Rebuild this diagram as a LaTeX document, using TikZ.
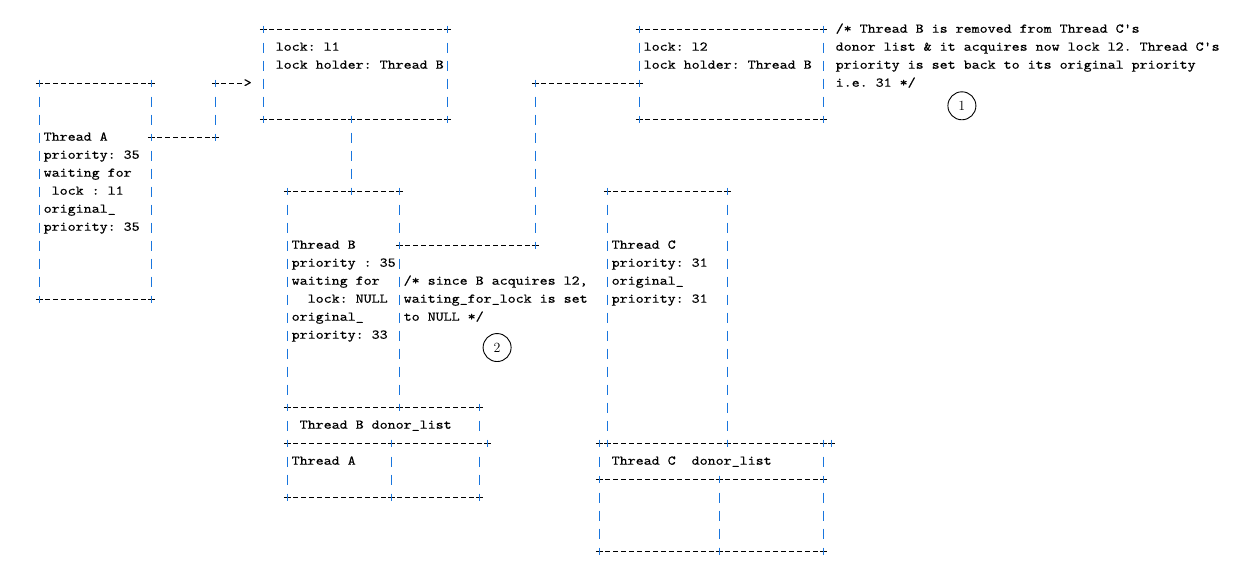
\documentclass[tikz,border=0pt]{standalone}
\usepackage{fontspec}
\setmonofont{lmmono10-regular.otf}[FakeStretch=1.143, FakeBold=0.35]
\usepackage{tikz}

\definecolor{barblue}{RGB}{25,118,222}

\tikzset{
  hbar/.style={black, line width=1pt},
  vbar/.style={barblue, line width=1.5pt},
  minus/.style={hbar, dash pattern=on 4.8pt off 3.2pt},
  pipe/.style={vbar, dash pattern=on 10.8pt off 7.2pt},
  plus/.pic={\draw[hbar] (-0.44,0) -- (0.44,0); \draw[vbar] (0,-0.2) -- (0,0.2);},
  txt/.style={anchor=base west, inner sep=0pt, font=\ttfamily\fontsize{13.33}{18}\selectfont},
  badge/.style={draw, line width=0.9pt, circle, minimum size=28pt, inner sep=0pt, font=\rmfamily\fontsize{14}{14}\selectfont}
}

% row, first col, last col
\newcommand{\hrun}[3]{\pic at (#2,#1) {plus}; \pic at (#3,#1) {plus}; \draw[minus] (#2+0.7,#1) -- (#3-0.7,#1);}
% col, first row, last row
\newcommand{\vrun}[3]{\draw[pipe] (#1,#2-0.26) -- (#1,#3+0.34);}

\begin{document}
\begin{tikzpicture}[x=8pt, y=-18pt]
\useasboundingbox (-39.5pt,29.3pt) rectangle (1211.5pt,-547.7pt);

% lock l1
\hrun{0}{28}{51}
\vrun{28}{1}{4} \vrun{51}{1}{4}
\hrun{5}{28}{39} \hrun{5}{39}{51}
\node[txt] (l1a) at (29.5,1.19) {lock: l1};
\node[txt] (l1b) at (29.5,2.19) {lock holder: Thread B};

% lock l2
\hrun{0}{75}{98}
\vrun{75}{1}{2} \vrun{75}{4}{4} \vrun{98}{1}{4}
\hrun{5}{75}{98}
\node[txt] (l2a) at (75.5,1.19) {lock: l2};
\node[txt] (l2b) at (75.5,2.19) {lock holder: Thread B};
\foreach \t [count=\i from 0] in {/* Thread B is removed from Thread C's, donor list \& it acquires now lock l2. Thread C's, priority is set back to its original priority, i.e. 31 */}
  \node[txt] (cm\i) at (99.5,\i+0.19) {\t};
\node[badge] (n1) at (115.3,4.25) {1};

% thread A
\hrun{3}{0}{14} \hrun{15}{0}{14}
\vrun{0}{4}{14} \vrun{14}{4}{5} \vrun{14}{7}{14}
\foreach \t [count=\i from 6] in {Thread A, priority: 35, waiting for, {\ lock : l1}, original\_, priority: 35}
  \node[txt] (ta\i) at (0.5,\i+0.19) {\t};
\hrun{6}{14}{22} \vrun{22}{4}{5}
\pic at (22,3) {plus};
\draw[minus] (22.7,3) -- (25.3,3);
\node[txt] (arr) at (25.5,3.19) {>};

% thread B
\vrun{39}{6}{8}
\hrun{9}{31}{39} \hrun{9}{39}{45}
\vrun{31}{10}{20} \vrun{45}{10}{11} \vrun{45}{13}{20}
\hrun{12}{45}{62} \vrun{62}{4}{11} \hrun{3}{62}{75}
\foreach \t [count=\i from 12] in {Thread B, priority : 35, waiting for, {\ \ lock: NULL}, original\_, priority: 33}
  \node[txt] (tb\i) at (31.5,\i+0.19) {\t};
\foreach \t [count=\i from 14] in {{/* since B acquires l2,}, waiting\_for\_lock is set, to NULL */}
  \node[txt] (cb\i) at (45.5,\i+0.19) {\t};
\node[badge] (n2) at (57.2,17.68) {2};

% donor list of B
\hrun{21}{31}{45} \hrun{21}{45}{55}
\vrun{31}{22}{22} \vrun{55}{22}{22}
\hrun{23}{31}{44} \hrun{23}{44}{56}
\vrun{31}{24}{25} \vrun{44}{24}{25} \vrun{55}{24}{25}
\hrun{26}{31}{44} \hrun{26}{44}{55}
\node[txt] (db) at (32.5,22.19) {Thread B donor\_list};
\node[txt] (dba) at (31.5,24.19) {Thread A};

% thread C
\hrun{9}{71}{86}
\vrun{71}{10}{22} \vrun{86}{10}{22}
\foreach \t [count=\i from 12] in {Thread C, priority: 31, original\_, priority: 31}
  \node[txt] (tc\i) at (71.5,\i+0.19) {\t};

% donor list of C
\pic at (70,23) {plus}; \pic at (99,23) {plus};
\hrun{23}{71}{86} \hrun{23}{86}{98}
\vrun{70}{24}{24} \vrun{98}{24}{24}
\hrun{25}{70}{85} \hrun{25}{85}{98}
\vrun{70}{26}{28} \vrun{85}{26}{28} \vrun{98}{26}{28}
\hrun{29}{70}{85} \hrun{29}{85}{98}
\node[txt] (dc) at (71.5,24.19) {Thread C\ \ donor\_list};
\end{tikzpicture}
\end{document}
